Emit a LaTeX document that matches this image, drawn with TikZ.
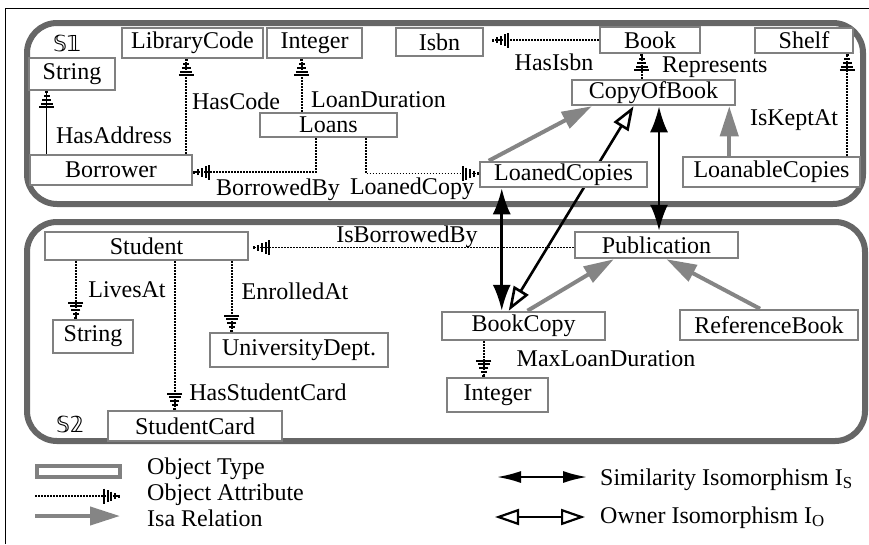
\documentclass[tikz,border=0pt]{standalone}
\usepackage{fontspec}
\setmainfont{Liberation Serif}
\newfontfamily\dsfont{DejaVu Sans}
\usetikzlibrary{arrows.meta,calc}
\pgfdeclarelayer{back}
\pgfsetlayers{back,main}
\definecolor{frameg}{gray}{0.4}
\definecolor{boxg}{gray}{0.5}
\definecolor{isag}{gray}{0.52}
\tikzset{
  every node/.style={font=\fontsize{24}{26}\selectfont},
  otype/.style={draw=boxg, line width=2.5pt, fill=white, inner sep=0pt},
  lbl/.style={inner sep=0pt},
  section/.style={draw=frameg, line width=6pt, rounded corners=30pt},
  attrline/.style={line width=1.8pt, dash pattern=on 1.5pt off 1.5pt},
  attr/.style={attrline,
    -{Bar[width=15pt,line width=2pt,sep=1.8pt]
      Bar[width=12pt,line width=2pt,sep=1.8pt]
      Bar[width=9pt,line width=2pt,sep=1.8pt]
      Bar[width=6pt,line width=2pt,sep=1.8pt]
      Bar[width=3pt,line width=2pt,sep=0pt]}},
  isa/.style={draw=isag, line width=4pt, -{Triangle[length=30pt,width=18pt,fill=isag]}},
  simiso/.style={line width=2.6pt,
    {Latex[length=26pt,width=18pt]}-{Latex[length=26pt,width=18pt]}},
  owniso/.style={line width=2.6pt,
    {Triangle[open,length=24pt,width=17pt]}-{Triangle[open,length=24pt,width=17pt]}},
}
\begin{document}
\begin{tikzpicture}[x=1pt,y=-1pt]
\useasboundingbox (0,0) rectangle (869,544);

% outer frame
\draw[line width=1.5pt] (5.5,544) -- (5.5,8.5) -- (869,8.5);

% ---------- schema S1 ----------
\node[lbl, font=\dsfont\fontsize{22}{24}\selectfont] (s1) at (67,43) {𝕊𝟙};
\node[otype, minimum width=141pt, minimum height=30pt] (libcode) at (192.5,43) {LibraryCode};
\node[otype, minimum width=95pt, minimum height=30pt] (integer1) at (314.5,43) {Integer};
\node[otype, minimum width=87pt, minimum height=28pt] (isbn) at (439.5,42) {Isbn};
\node[otype, minimum width=86pt, minimum height=32pt] (string1) at (72,74) {String};
\node[otype, minimum width=100pt, minimum height=26pt] (book) at (650,40) {Book};
\node[otype, minimum width=98pt, minimum height=25pt] (shelf) at (804,40.5) {Shelf};
\node[otype, minimum width=163pt, minimum height=25pt] (copyofbook) at (653.5,92.5) {CopyOfBook};
\node[otype, minimum width=137pt, minimum height=24pt] (loans) at (328.5,125) {Loans};
\node[otype, minimum width=162pt, minimum height=30pt] (borrower) at (111,170) {Borrower};
\node[otype, minimum width=167pt, minimum height=25pt] (loaned) at (563.5,174.5) {LoanedCopies};
\node[otype, minimum width=177pt, minimum height=30pt] (loanable) at (771.5,172) {LoanableCopies};

\node[lbl] (lhasaddress) at (114,135) {HasAddress};
\node[lbl] (lhascode) at (236,101) {HasCode};
\node[lbl, anchor=west] (lloandur) at (311,100) {LoanDuration};
\node[lbl] (lborrowedby) at (278,190) {BorrowedBy};
\node[lbl] (lloanedcopy) at (412,189) {LoanedCopy};
\node[lbl] (lhasisbn) at (554,62) {HasIsbn};
\node[lbl, anchor=west] (lrepresents) at (662,67) {Represents};
\node[lbl] (liskeptat) at (794,120) {IsKeptAt};

% ---------- schema S2 ----------
\node[lbl, font=\dsfont\fontsize{22}{24}\selectfont] (s2) at (70,424) {𝕊𝟚};
\node[otype, minimum width=203pt, minimum height=28pt] (student) at (146.5,246) {Student};
\node[otype, minimum width=80pt, minimum height=33pt] (string2) at (93,336.5) {String};
\node[otype, minimum width=178pt, minimum height=34pt] (unidept) at (299,350) {UniversityDept.};
\node[otype, minimum width=174pt, minimum height=30pt] (studentcard) at (195,426) {StudentCard};
\node[otype, minimum width=163pt, minimum height=26pt] (publication) at (656.5,245) {Publication};
\node[otype, minimum width=163pt, minimum height=28pt] (bookcopy) at (523.5,326) {BookCopy};
\node[otype, minimum width=178pt, minimum height=30pt] (refbook) at (769,325) {ReferenceBook};
\node[otype, minimum width=101pt, minimum height=34pt] (integer2) at (497.5,395) {Integer};

\node[lbl] (lisborrowedby) at (407,237) {IsBorrowedBy};
\node[lbl] (llivesat) at (127,290) {LivesAt};
\node[lbl] (lenrolledat) at (295,291) {EnrolledAt};
\node[lbl] (lhasstudentcard) at (268,392) {HasStudentCard};
\node[lbl] (lmaxloan) at (606,359) {MaxLoanDuration};

% ---------- legend ----------
\node[lbl, anchor=base west] (legtype) at (147,474) {Object Type};
\node[lbl, anchor=base west] (legattr) at (147,500) {Object Attribute};
\node[lbl, anchor=base west] (legisa) at (147,526) {Isa Relation};
\node[lbl, anchor=base west] (legsim) at (600,485) {Similarity Isomorphism I\textsubscript{S}};
\node[lbl, anchor=base west] (legown) at (600,523) {Owner Isomorphism I\textsubscript{O}};

\begin{pgfonlayer}{back}
% schema frames
\draw[section] (27,23) rectangle (863,204);
\draw[section] (27,222) rectangle (865,441);

% attribute connectors in S1
\coordinate (hasaddr) at ([xshift=18pt]borrower.north west);
\draw[attr, solid, line width=0.8pt] (hasaddr) -- (hasaddr |- string1.south);
\coordinate (hascode) at ([xshift=-7pt]borrower.north east);
\draw[attr] (hascode) -- (hascode |- libcode.south);
\coordinate (loandur) at ([xshift=43pt]loans.north west);
\draw[attr] (loandur) -- (loandur |- integer1.south);
\coordinate (borrowedby) at ([xshift=57pt]loans.south west);
\draw[attr] (borrowedby) |- ([yshift=-2pt]borrower.east);
\coordinate (loanedcopy) at ([xshift=107pt]loans.south west);
\draw[attr] (loanedcopy) |- ([yshift=1pt]loaned.west);
\draw[attr, shorten >=8pt] (book.west) -- (book.west -| isbn.east);
\coordinate (represents) at ([xshift=71pt]copyofbook.north west);
\draw[attr] (represents) -- (represents |- book.south);
\coordinate (iskeptat) at ([xshift=-14pt]loanable.north east);
\draw[attr] (iskeptat) -- (iskeptat |- shelf.south);

% isa relations in S1
\draw[isa] ([xshift=10pt]loaned.north west) -- ([xshift=21pt]copyofbook.south west);
\coordinate (loanableisa) at ([xshift=-7pt]copyofbook.south east);
\draw[isa] (loanableisa |- loanable.north) -- (loanableisa);

% attribute connectors in S2
\coordinate (isborrowed) at ([yshift=-2.5pt]publication.west);
\draw[attr, shorten >=4pt] (isborrowed) -- (isborrowed -| student.east);
\coordinate (livesat) at ([xshift=32pt]student.south west);
\draw[attr] (livesat) -- (livesat |- string2.north);
\coordinate (hascard) at ([xshift=131pt]student.south west);
\draw[attr] (hascard) -- (hascard |- studentcard.north);
\coordinate (enrolled) at ([xshift=188pt]student.south west);
\draw[attr] (enrolled) -- (enrolled |- unidept.north);
\coordinate (maxloan) at ([xshift=43pt]bookcopy.south west);
\draw[attr] (maxloan) -- (maxloan |- integer2.north);

% isa relations in S2
\draw[isa] ([xshift=4pt]bookcopy.north) -- ([xshift=40pt]publication.south west);
\draw[isa] ([xshift=-9pt]refbook.north) -- ([xshift=10pt]publication.south);

% isomorphisms between S1 and S2
\coordinate (simA) at ([xshift=23pt]loaned.south west);
\draw[simiso] (simA) -- (simA |- bookcopy.north);
\coordinate (simB) at ([xshift=5.5pt]copyofbook.south);
\draw[simiso] (simB) -- (simB |- publication.north);
\draw[owniso] ([xshift=-20pt]copyofbook.south) -- ([xshift=68pt]bookcopy.north west);

% legend samples
\draw[draw=boxg, line width=4pt] (37,466) rectangle (120,477);
\coordinate (attrA) at (35,496);
\coordinate (attrB) at (120,496);
\draw[attr] (attrA) -- (attrB);
\coordinate (isaA) at (35,516);
\coordinate (isaB) at (120,516);
\draw[isa] (isaA) -- (isaB);
\coordinate (simL) at (497,477);
\coordinate (simR) at (587,477);
\draw[line width=2pt, {Latex[length=24pt,width=12pt]}-{Latex[length=24pt,width=12pt]}] (simL) -- (simR);
\coordinate (ownL) at (495,517);
\coordinate (ownR) at (585,517);
\draw[line width=2.2pt, {Triangle[open,length=24pt,width=16pt]}-{Triangle[open,length=24pt,width=16pt]}] (ownL) -- (ownR);
\end{pgfonlayer}
\end{tikzpicture}
\end{document}
